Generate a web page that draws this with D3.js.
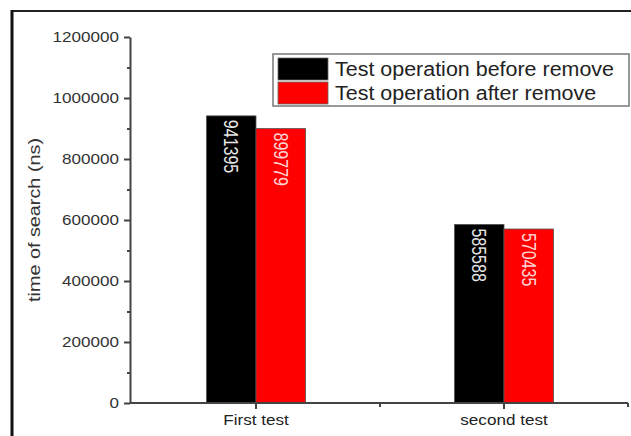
<!DOCTYPE html>
<html>
<head>
<meta charset="utf-8">
<script src="https://cdn.jsdelivr.net/npm/d3@7"></script>
<style>
  body { margin: 0; background: #fff; }
  svg { display: block; font-family: Arial, "Liberation Sans", sans-serif; }
</style>
</head>
<body>
<svg id="chart" width="631" height="436"></svg>
<script>
// Data
const categories = ["First test", "second test"];
const seriesNames = ["Test operation before remove", "Test operation after remove"];
const seriesColors = ["#000000", "#ff0000"];
const labelColors = ["#e6e6e6", "#ffd6d6"];
const beforeValues = [941395, 585588];
const afterValues = [899779, 570435];
const yTicks = [0, 200000, 400000, 600000, 800000, 1000000, 1200000];
const yMinorTicks = [100000, 300000, 500000, 700000, 900000, 1100000];

const svg = d3.select('#chart');

// the source picture is stretched sideways, so widen the text a bit
function stretch(sel, k) {
    sel.each(function () {
        this.setAttribute("textLength", this.getComputedTextLength() * k);
        this.setAttribute("lengthAdjust", "spacingAndGlyphs");
    });
}

// outer frame of the figure
svg.append("line")
    .attr("x1", 11).attr("y1", 11).attr("x2", 631).attr("y2", 11)
    .style("stroke", "#222").style("stroke-width", 2);
svg.append("line")
    .attr("x1", 12).attr("y1", 10).attr("x2", 12).attr("y2", 436)
    .style("stroke", "#111").style("stroke-width", 3);

const plot = { left: 130, right: 628, top: 37, bottom: 403 };

const y = d3.scaleLinear()
    .domain([0, 1200000])
    .range([plot.bottom, plot.top]);

const x0 = d3.scaleBand()
    .domain(categories)
    .range([plot.left + 2, plot.right])
    .paddingInner(0.6)
    .paddingOuter(0.3);

const x1 = d3.scaleBand()
    .domain(seriesNames)
    .range([0, x0.bandwidth()]);

const rows = categories.map((c, i) => ({
    category: c,
    values: [beforeValues[i], afterValues[i]]
}));

// bars
const groups = svg.append("g")
    .selectAll("g")
    .data(rows)
    .join("g")
    .attr("transform", d => `translate(${x0(d.category)},0)`);

groups.selectAll("rect")
    .data(d => d.values.map((v, j) => ({ series: seriesNames[j], value: v, j })))
    .join("rect")
    .attr("x", d => x1(d.series))
    .attr("y", d => y(d.value))
    .attr("width", x1.bandwidth())
    .attr("height", d => y(0) - y(d.value))
    .style("fill", d => seriesColors[d.j])
    .style("stroke", "#555")
    .style("stroke-width", 0.8);

// value labels, rotated, reading downwards
groups.selectAll("text")
    .data(d => d.values.map((v, j) => ({ series: seriesNames[j], value: v, j })))
    .join("text")
    .attr("transform", d => `translate(${x1(d.series) + x1.bandwidth() / 2},${y(d.value) + 4}) scale(1.25,1) rotate(90)`)
    .attr("dy", "0.35em")
    .style("font-size", "16px")
    .style("fill", d => labelColors[d.j])
    .text(d => d.value);

// y axis
const yAxis = svg.append("g")
    .attr("transform", `translate(${plot.left},0)`)
    .call(d3.axisLeft(y).tickValues(yTicks).tickFormat(d3.format("d"))
        .tickSize(6).tickSizeOuter(0).tickPadding(5));
yAxis.select(".domain").style("stroke", "#444").style("stroke-width", 2);
yAxis.selectAll(".tick line").style("stroke", "#444").style("stroke-width", 2);
yAxis.selectAll(".tick text").style("font-size", "14px").style("fill", "#333")
    .call(stretch, 1.22);

svg.append("g")
    .attr("transform", `translate(${plot.left},0)`)
    .call(d3.axisLeft(y).tickValues(yMinorTicks).tickSize(3).tickFormat(""))
    .call(g => g.select(".domain").remove())
    .selectAll("line").style("stroke", "#444").style("stroke-width", 2);

// x axis
const xAxis = svg.append("g")
    .attr("transform", `translate(0,${plot.bottom})`)
    .call(d3.axisBottom(x0).tickSize(6).tickSizeOuter(0).tickPadding(6));
xAxis.select(".domain").attr("d", `M${plot.left},0H${plot.right}`)
    .style("stroke", "#444").style("stroke-width", 2);
xAxis.selectAll(".tick line").style("stroke", "#444").style("stroke-width", 2);
xAxis.selectAll(".tick text").style("font-size", "14px").style("fill", "#222")
    .call(stretch, 1.22);

// minor ticks on category boundaries
const boundaries = categories.map(c => x0(c) + x0.bandwidth() / 2 + x0.step() / 2);
svg.append("g")
    .selectAll("line")
    .data(boundaries)
    .join("line")
    .attr("x1", d => d).attr("x2", d => d)
    .attr("y1", plot.bottom).attr("y2", plot.bottom + 4)
    .style("stroke", "#444").style("stroke-width", 2);

// y axis title
svg.append("text")
    .attr("transform", `translate(40,${(plot.top + plot.bottom) / 2 + 0}) rotate(-90)`)
    .attr("text-anchor", "middle")
    .attr("textLength", 164)
    .attr("lengthAdjust", "spacingAndGlyphs")
    .style("font-size", "16px")
    .style("fill", "#333")
    .text("time of search (ns)");

// legend
const legend = svg.append("g").attr("transform", "translate(273,54)");
legend.append("rect")
    .attr("width", 356).attr("height", 52)
    .style("fill", "#fff").style("stroke", "#777").style("stroke-width", 1.5);

const items = legend.selectAll("g")
    .data(seriesNames)
    .join("g")
    .attr("transform", (d, i) => `translate(5,${4 + i * 24})`);
items.append("rect")
    .attr("width", 50).attr("height", 22)
    .style("fill", (d, i) => seriesColors[i])
    .style("stroke", "#666").style("stroke-width", 0.8);
items.append("text")
    .attr("x", 57).attr("y", 11)
    .attr("dy", "0.35em")
    .style("font-size", "19.5px")
    .style("fill", "#222")
    .text(d => d)
    .call(stretch, 1.1);
</script>
</body>
</html>
